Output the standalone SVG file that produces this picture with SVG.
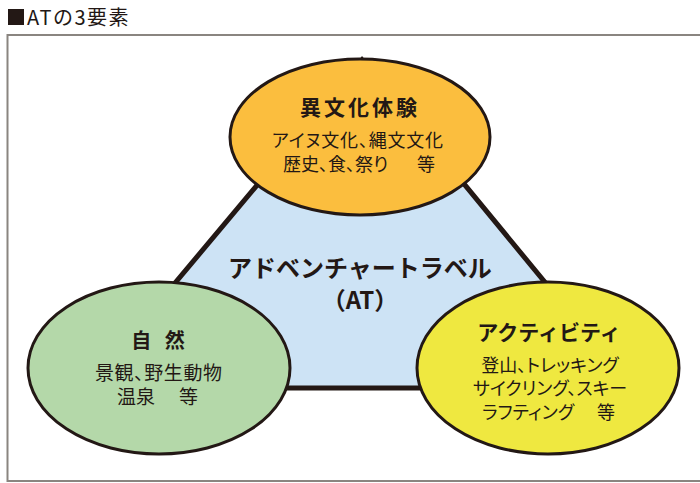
<svg xmlns="http://www.w3.org/2000/svg" width="700" height="483" viewBox="0 0 700 483">
<style>
text{font-family:"Liberation Sans","Noto Sans CJK JP",sans-serif;fill:#231815;text-anchor:middle}
.t{font-family:"Noto Sans CJK JP","Noto Sans",sans-serif}
.h{font-weight:bold;font-size:20px}
.b{font-size:18px}
.p{font-feature-settings:"palt"}
.s{text-anchor:start}
.ell{stroke:#231815;stroke-width:3}
.frame{fill:none;stroke:#8a8580;stroke-width:2}
</style>
<rect width="700" height="483" fill="#fff"/>
<g id="title">
<rect x="8" y="9" width="16" height="16" fill="#231815"/>
<text class="t" x="27" y="25" style="text-anchor:start;font-size:20px;letter-spacing:1.5px">ATの3要素</text>
</g>
<path class="frame" d="M700,35 H7.5 V481 H700"/>
<g id="connectors">
<polygon points="362,60 87,388 632,388" fill="#cde3f5" stroke="#231815" stroke-width="5" stroke-linejoin="miter"/>
</g>
<g id="center">
<text class="t" x="360" y="277" style="font-weight:bold;font-size:24px">アドベンチャートラベル</text>
<text class="t" x="360" y="309" style="font-weight:bold;font-size:24px">（AT）</text>
</g>
<g id="culture">
<ellipse class="ell" cx="360" cy="137" rx="130" ry="78" fill="#fbbe3e"/>
<text class="h" x="360" y="115" style="font-size:21px;letter-spacing:3px">異文化体験</text>
<text class="b s p" x="272" y="147" textLength="171" lengthAdjust="spacing">アイヌ文化、縄文文化</text>
<text class="b s p" x="283" y="171">歴史、食、祭り　<tspan x="417">等</tspan></text>
</g>
<g id="nature">
<ellipse class="ell" cx="159" cy="368" rx="131" ry="86" fill="#b4d8a9"/>
<text class="h" x="160" y="348" style="letter-spacing:4px">自 然</text>
<text class="b s p" x="95" y="380" style="font-size:19px" textLength="127" lengthAdjust="spacing">景観、野生動物</text>
<text class="b s" x="117" y="404" style="font-size:19px">温泉　<tspan x="179">等</tspan></text>
</g>
<g id="activity">
<ellipse class="ell" cx="548" cy="368" rx="131" ry="86" fill="#efe840"/>
<text class="h" x="549" y="340" style="font-size:21px">アクティビティ</text>
<text class="b p" x="550" y="372">登山、トレッキング</text>
<text class="b p" x="550" y="395">サイクリング、スキー</text>
<text class="b s p" x="482" y="419">ラフティング　<tspan x="597">等</tspan></text>
</g>
</svg>
